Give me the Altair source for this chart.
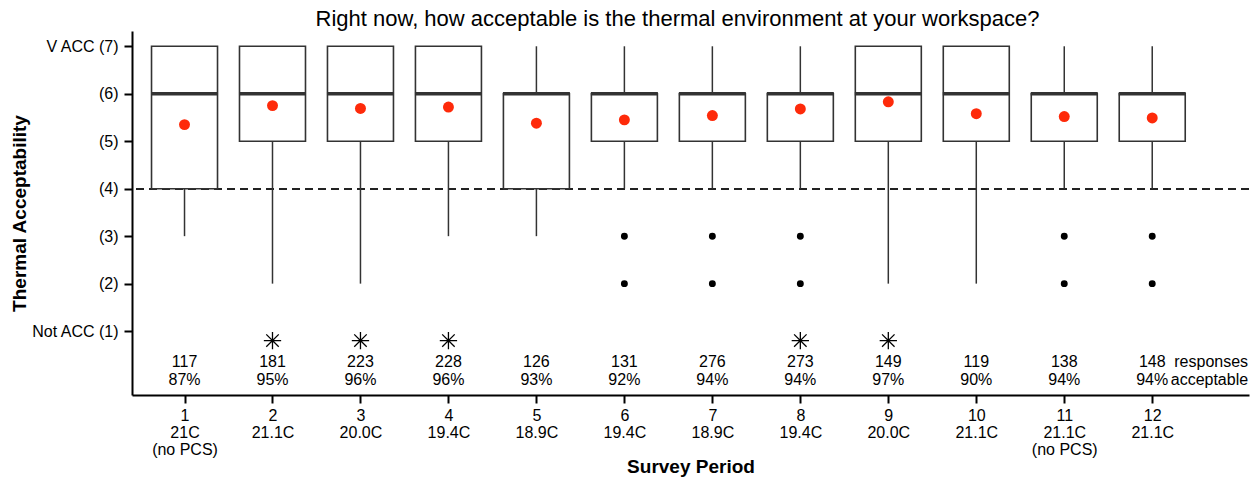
import altair as alt
import pandas as pd

periods = [1, 2, 3, 4, 5, 6, 7, 8, 9, 10, 11, 12]
temps = ["21C", "21.1C", "20.0C", "19.4C", "18.9C", "19.4C", "18.9C", "19.4C", "20.0C", "21.1C", "21.1C", "21.1C"]
notes = ["(no PCS)", "", "", "", "", "", "", "", "", "", "(no PCS)", ""]
q1 = [4, 5, 5, 5, 4, 5, 5, 5, 5, 5, 5, 5]
median = [6, 6, 6, 6, 6, 6, 6, 6, 6, 6, 6, 6]
q3 = [7, 7, 7, 7, 6, 6, 6, 6, 7, 7, 6, 6]
whisker_low = [3, 2, 2, 3, 3, 4, 4, 4, 2, 2, 4, 4]
whisker_high = [7, 7, 7, 7, 7, 7, 7, 7, 7, 7, 7, 7]
means = [5.35, 5.75, 5.69, 5.72, 5.38, 5.45, 5.54, 5.68, 5.83, 5.58, 5.52, 5.49]
responses = [117, 181, 223, 228, 126, 131, 276, 273, 149, 119, 138, 148]
pct_acceptable = [87, 95, 96, 96, 93, 92, 94, 94, 97, 90, 94, 94]

outlier_period = [6, 6, 7, 7, 8, 8, 11, 11, 12, 12]
outlier_value = [3, 2, 3, 2, 3, 2, 3, 2, 3, 2]
extreme_period = [2, 3, 4, 8, 9]
extreme_value = [0.8, 0.8, 0.8, 0.8, 0.8]

y_tick_labels = ["Not ACC (1)", "(2)", "(3)", "(4)", "(5)", "(6)", "V ACC (7)"]

FONT = "Liberation Sans"
DARK = "#333333"
FS = 16

df = pd.DataFrame({
    "period": periods, "q1": q1, "median": median, "q3": q3,
    "lo": whisker_low, "hi": whisker_high, "mean": means,
    "n": [str(v) for v in responses],
    "pct": [f"{v}%" for v in pct_acceptable],
})
df_out = pd.DataFrame({"period": outlier_period, "value": outlier_value})
df_ext = pd.DataFrame({"period": extreme_period, "value": extreme_value})

xscale = alt.Scale(domain=[0.403, 13.10], nice=False, zero=False, padding=0)
yscale = alt.Scale(domain=[-0.346, 7.322], nice=False, zero=False, padding=0)

label_arrays = []
for p, t, n in zip(periods, temps, notes):
    parts = [f"'{p}'", f"'{t}'"] + ([f"'{n}'"] if n else [])
    label_arrays.append("[" + ",".join(parts) + "]")
x_label_expr = "[" + ",".join(label_arrays) + "][datum.value - 1]"
y_label_expr = "[" + ",".join(f"'{s}'" for s in y_tick_labels) + "][datum.value - 1]"

x_axis = alt.Axis(
    values=periods, labelExpr=x_label_expr, title="Survey Period",
    labelLineHeight=17, labelPadding=4, titleY=77, titleBaseline="alphabetic",
    grid=False,
)
y_axis = alt.Axis(
    values=[1, 2, 3, 4, 5, 6, 7], labelExpr=y_label_expr,
    title="Thermal Acceptability", labelPadding=6, titleX=-107,
    titleBaseline="alphabetic", grid=False,
)

base = alt.Chart(df)
X = alt.X("period:Q", scale=xscale, axis=x_axis)

dash = base.mark_rule(color="#222222", strokeWidth=1.6, strokeDash=[8, 5]).encode(
    y=alt.datum(4, scale=yscale, axis=y_axis)
)
whisk_lo = base.mark_rule(color=DARK, strokeWidth=1.5).encode(
    x=X, y=alt.Y("lo:Q", scale=yscale, axis=y_axis), y2="q1:Q"
)
whisk_hi = base.mark_rule(color=DARK, strokeWidth=1.5).encode(
    x=X, y=alt.Y("q3:Q", scale=yscale), y2="hi:Q"
)
boxes = base.mark_bar(size=66, fill="white", stroke=DARK, strokeWidth=1.6, opacity=1).encode(
    x=X, y=alt.Y("q1:Q", scale=yscale), y2="q3:Q"
)
meds = base.mark_tick(orient="horizontal", size=67, thickness=3.5, color=DARK, opacity=1).encode(
    x=X, y=alt.Y("median:Q", scale=yscale)
)
mean_pts = base.mark_circle(size=120, color="#fe2a0a", opacity=1).encode(
    x=X, y=alt.Y("mean:Q", scale=yscale)
)
outs = alt.Chart(df_out).mark_circle(size=48, color="black", opacity=1).encode(
    x=alt.X("period:Q", scale=xscale), y=alt.Y("value:Q", scale=yscale)
)
star_path = "M0,-1L0,1M-1,0L1,0M-0.72,-0.72L0.72,0.72M-0.72,0.72L0.72,-0.72"
exts = alt.Chart(df_ext).mark_point(
    shape=star_path, size=300, stroke="black", strokeWidth=1.3, filled=False, opacity=1
).encode(x=alt.X("period:Q", scale=xscale), y=alt.Y("value:Q", scale=yscale))

txt_n = base.mark_text(font=FONT, fontSize=FS, color="black").encode(
    x=X, y=alt.datum(0.35, scale=yscale), text="n:N"
)
txt_p = base.mark_text(font=FONT, fontSize=FS, color="black").encode(
    x=X, y=alt.datum(-0.03, scale=yscale), text="pct:N"
)
side = pd.DataFrame({"label": ["responses", "acceptable"], "yv": [0.35, -0.03]})
txt_side = alt.Chart(side).mark_text(font=FONT, fontSize=FS, color="black", align="right").encode(
    x=alt.datum(13.09, scale=xscale), y=alt.Y("yv:Q", scale=yscale), text="label:N"
)

chart = alt.layer(
    dash, whisk_lo, whisk_hi, boxes, meds, mean_pts, outs, exts, txt_n, txt_p, txt_side
).properties(
    width=1117, height=364,
    title=alt.TitleParams(
        "Right now, how acceptable is the thermal environment at your workspace?",
        font=FONT, fontSize=22, fontWeight="normal", color="black",
        anchor="middle", dx=-13, offset=0,
    ),
    autosize=alt.AutoSizeParams(type="none"),
    padding={"left": 124, "top": 23, "right": 1, "bottom": 84},
).configure_view(stroke=None).configure_axis(
    domainColor="black", domainWidth=2, tickColor="black", tickWidth=2, tickSize=8,
    labelFont=FONT, labelFontSize=FS, labelColor="black",
    titleFont=FONT, titleFontSize=19, titleFontWeight="bold", titleColor="black",
)

chart.save("out.html", embed_options={"renderer": "svg", "actions": False})
